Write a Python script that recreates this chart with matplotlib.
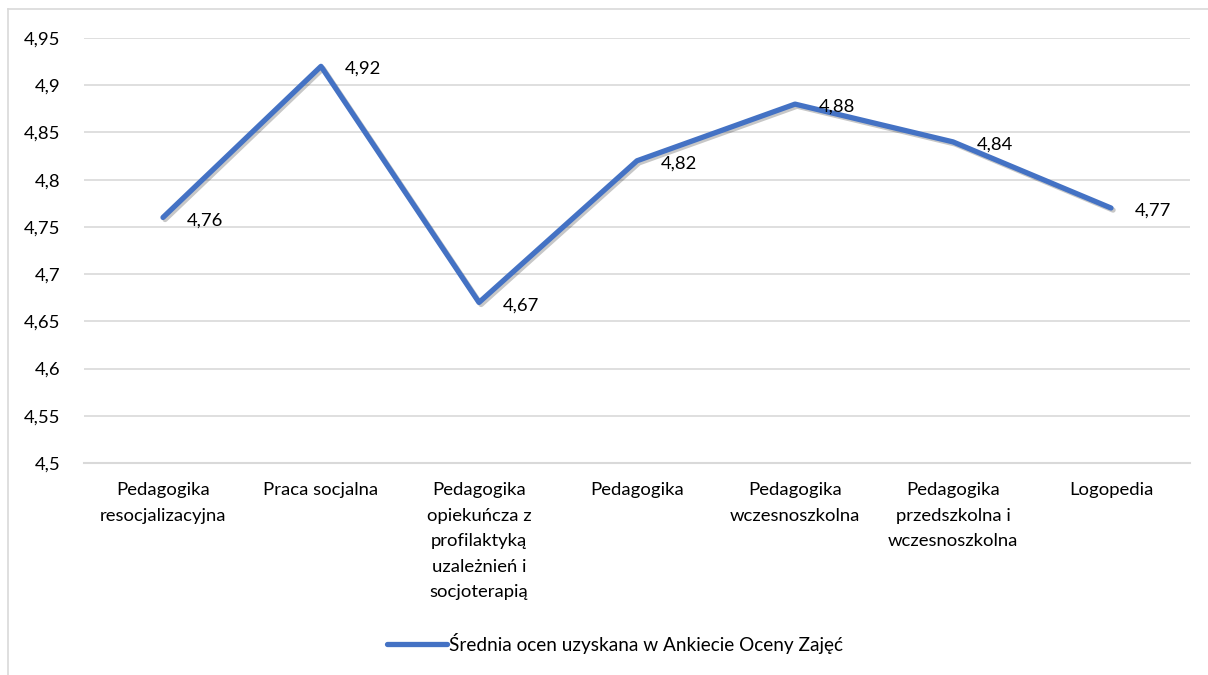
import matplotlib
matplotlib.use("Agg")
import matplotlib.pyplot as plt
import matplotlib.patheffects as pe
from matplotlib.lines import Line2D

categories = [
    "Pedagogika\nresocjalizacyjna",
    "Praca socjalna",
    "Pedagogika\nopiekuńcza z\nprofilaktyką\nuzależnień i\nsocjoterapią",
    "Pedagogika",
    "Pedagogika\nwczesnoszkolna",
    "Pedagogika\nprzedszkolna i\nwczesnoszkolna",
    "Logopedia",
]
values = [4.76, 4.92, 4.67, 4.82, 4.88, 4.84, 4.77]
series_name = "Średnia ocen uzyskana w Ankiecie Oceny Zajęć"
yticks = [4.5, 4.55, 4.6, 4.65, 4.7, 4.75, 4.8, 4.85, 4.9, 4.95]

plt.rcParams['font.family'] = ['Lato', 'DejaVu Sans']
FS = 13.3
W, H = 1208, 675
fig = plt.figure(figsize=(W / 100, H / 100), dpi=100)
ax = fig.add_axes([84 / W, 1 - 463 / H, (1190 - 84) / W, (463 - 38) / H])

x = list(range(len(values)))
ax.plot(x, values, color="#4472C4", lw=3.8, solid_capstyle="round", solid_joinstyle="round",
        path_effects=[pe.SimpleLineShadow(offset=(1.5, -1.5), shadow_color="black", alpha=0.22),
                      pe.Normal()], label=series_name)

for xi, v in zip(x, values):
    ax.annotate(f"{v:.2f}".replace(".", ","), (xi, v), xytext=(17, -2), textcoords="offset points",
                ha="left", va="center", fontsize=FS, color="#000000")

ax.set_xlim(-0.5, len(values) - 0.5)
ax.set_ylim(4.5, 4.95)
ax.set_yticks(yticks)
ax.set_yticklabels([f"{t:g}".replace(".", ",") for t in yticks])
ax.set_xticks(x)
ax.set_xticklabels(categories, linespacing=1.72, va="top")
ax.tick_params(axis="both", length=0, labelsize=FS, colors="#000000")
ax.tick_params(axis="y", pad=17)
ax.tick_params(axis="x", pad=14)
ax.grid(axis="y", color="#d9d9d9", lw=1.2)
ax.set_axisbelow(True)
for s in ["top", "right", "left"]:
    ax.spines[s].set_visible(False)
ax.spines["bottom"].set_color("#d9d9d9")
ax.spines["bottom"].set_linewidth(1.5)

leg = fig.legend(handles=[Line2D([0], [0], color="#4472C4", lw=3.8, solid_capstyle="round")],
                 labels=[series_name], loc="center", bbox_to_anchor=(615 / W, 1 - 643 / H),
                 frameon=False, fontsize=FS + 0.4, handlelength=3.2, handletextpad=0.1)

fig.add_artist(Line2D([8 / W, 8 / W], [0, 1 - 9 / H], transform=fig.transFigure, color="#d9d9d9", lw=1.2))
fig.add_artist(Line2D([8 / W, 1], [1 - 9 / H, 1 - 9 / H], transform=fig.transFigure, color="#d9d9d9", lw=1.2))

fig.savefig("out.png", dpi=100, facecolor="white")
